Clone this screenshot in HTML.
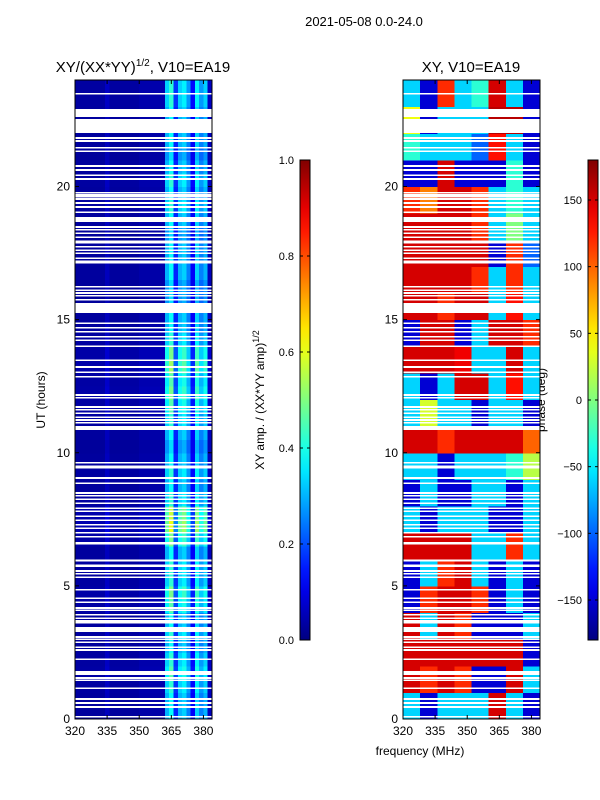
<!DOCTYPE html>
<html><head><meta charset="utf-8">
<style>
body{margin:0;background:#fff;}
svg{display:block;font-family:"Liberation Sans","DejaVu Sans",sans-serif;}
</style></head>
<body>
<svg id="fig" width="600" height="800" viewBox="0 0 600 800">
<text x="364" y="26" font-size="13" text-anchor="middle">2021-05-08 0.0-24.0</text>
<text x="143" y="72" font-size="15" text-anchor="middle">XY/(XX*YY)<tspan font-size="10" dy="-6">1/2</tspan><tspan dy="6">, V10=EA19</tspan></text>
<text x="471" y="72" font-size="15" text-anchor="middle">XY, V10=EA19</text>
<text x="420" y="755" font-size="12" text-anchor="middle">frequency (MHz)</text>
<text transform="translate(45,400) rotate(-90)" font-size="12" text-anchor="middle">UT (hours)</text>
<text transform="translate(264,400) rotate(-90)" font-size="12" text-anchor="middle">XY amp. / (XX*YY amp)<tspan font-size="9" dy="-5">1/2</tspan></text>
<text transform="translate(545,400) rotate(-90)" font-size="12" text-anchor="middle">phase (deg)</text>
<g id="left" shape-rendering="crispEdges"></g>
<g id="right" shape-rendering="crispEdges"></g>
<g id="axes"></g>
</svg>
<script>
// ---- data ----
const freqBinsAmp = [320,322,324,326,328,330,332,334,336,338,340,342,344,346,348,350,352,354,356,358,360,362,364,366,368,370,372,374,376,378,380,382];
const ampByFreq = [0.03,0.03,0.03,0.03,0.03,0.03,0.03,0.06,0.03,0.03,0.03,0.03,0.03,0.03,0.03,0.04,0.04,0.04,0.04,0.04,0.04,0.3,0.38,0.16,0.3,0.33,0.25,0.12,0.33,0.25,0.3,0.06];
const hourBins = [0,0.5,1,1.5,2,2.5,3,3.5,4,4.5,5,5.5,6,6.5,7,7.5,8,8.5,9,9.5,10,10.5,11,11.5,12,12.5,13,13.5,14,14.5,15,15.5,16,16.5,17,17.5,18,18.5,19,19.5,20,20.5,21,21.5,22,22.5,23,23.5];
const ampRowScale = [1.0,1.0,1.1,1.2,1.1,1.0,1.1,1.0,1.2,1.3,1.1,1.1,1.0,1.3,1.6,1.5,1.1,1.0,1.1,1.0,0.9,1.0,1.1,1.2,1.3,1.2,1.4,1.3,1.1,1.0,1.0,0.9,0.9,1.0,1.0,1.0,0.9,1.0,1.1,1.0,1.1,1.0,0.9,1.0,1.0,1.0,1.1,1.1];
const phaseFreqs = [320,328,336,344,352,360,368,376];
const phaseHours = [0,1,2,3,4,5,6,7,8,9,10,11,12,13,14,15,16,17,18,19,20,21,22,23];
const phaseGrid = [
 [-60,-150,-60,-60,-60,150,-60,-150],
 [150,120,150,120,-150,-150,150,-60],
 [150,150,150,150,150,150,150,-150],
 [150,-60,150,120,-150,-150,-150,-60],
 [-150,120,150,150,120,-150,-60,-150],
 [-150,-60,120,150,-60,-150,-60,-150],
 [150,150,150,150,-60,-60,120,-60],
 [-60,-150,-60,-60,-60,-150,-150,-60],
 [-150,-60,-150,-150,-60,-60,-150,-60],
 [-60,-60,-150,-60,-60,-60,-30,20],
 [150,150,120,150,150,150,150,100],
 [-60,30,-60,-60,-150,-60,-60,-150],
 [-60,-150,-60,150,150,-60,130,-60],
 [150,150,150,140,-60,-60,150,-60],
 [-150,150,150,-150,-60,150,150,120],
 [150,150,120,150,150,-60,130,-60],
 [150,150,150,150,120,-60,120,-60],
 [150,150,150,150,150,-150,120,-100],
 [150,150,150,150,120,-60,0,-60],
 [120,90,150,150,120,-60,-30,-60],
 [-150,-150,150,-150,-150,-150,-30,-150],
 [-30,-60,-60,-60,-100,130,-60,-150],
 [40,-150,-60,-60,-60,160,160,-150],
 [-60,-150,120,-60,-30,150,-60,-150]
];
const gapLo = [23.45,22.61,22.01,21.79,21.68,21.42,21.30,20.74,20.59,20.40,20.25,19.73,19.65,19.58,19.50,19.35,19.20,19.01,18.67,18.45,18.34,18.22,18.07,17.92,17.85,17.70,17.58,17.47,17.28,17.17,17.10,16.20,16.08,15.97,15.86,15.71,15.25,14.84,14.66,14.51,14.32,14.20,13.97,13.45,13.19,13.00,12.82,12.14,12.03,11.69,11.58,11.46,11.31,11.20,11.09,10.85,9.59,9.40,9.02,8.83,8.46,8.35,8.23,8.08,7.89,7.78,7.59,7.44,7.26,7.14,6.96,6.81,6.56,5.92,5.70,5.53,5.42,5.30,4.82,4.51,4.36,4.14,4.06,3.88,3.76,3.65,3.58,3.27,3.05,2.97,2.86,2.67,2.56,2.22,1.65,1.51,1.43,1.13,0.72,0.57,0.42,0.05];
const gapHi = [23.52,22.91,22.54,21.85,21.74,21.48,21.36,20.80,20.65,20.46,20.31,19.79,19.71,19.64,19.56,19.41,19.26,19.07,18.85,18.51,18.40,18.28,18.13,17.98,17.91,17.76,17.64,17.53,17.34,17.23,17.16,16.26,16.14,16.03,15.92,15.77,15.62,14.90,14.72,14.57,14.38,14.26,14.03,13.51,13.25,13.06,12.88,12.20,12.09,11.75,11.64,11.52,11.37,11.26,11.15,11.00,9.65,9.52,9.08,8.89,8.52,8.41,8.29,8.14,7.95,7.84,7.65,7.50,7.32,7.20,7.02,6.87,6.64,5.99,5.80,5.59,5.48,5.36,4.88,4.57,4.42,4.20,4.12,3.94,3.82,3.71,3.64,3.46,3.11,3.03,2.92,2.73,2.62,2.28,1.80,1.57,1.49,1.19,0.78,0.63,0.48,0.11];
const xTicks = [320,335,350,365,380];
const yTicks = [0,5,10,15,20];
const ampTicks = [0.0,0.2,0.4,0.6,0.8,1.0];
const phaseTicks = [-150,-100,-50,0,50,100,150];

// ---- helpers ----
const NS='http://www.w3.org/2000/svg';
const svg=document.getElementById('fig');
function el(tag,attrs,parent){const e=document.createElementNS(NS,tag);for(const k in attrs)e.setAttribute(k,attrs[k]);(parent||svg).appendChild(e);return e;}
function jet(v){v=Math.max(0,Math.min(1,v));
 const r=Math.max(0,Math.min(1,1.5-Math.abs(4*v-3)));
 const g=Math.max(0,Math.min(1,1.5-Math.abs(4*v-2)));
 const b=Math.max(0,Math.min(1,1.5-Math.abs(4*v-1)));
 return 'rgb('+Math.round(r*255)+','+Math.round(g*255)+','+Math.round(b*255)+')';}
const Y0=719,Y1=80;
function yH(h){return Y0-(h/24)*(Y0-Y1);}
function xL(f){return 75+(f-320)/64*137;}
function xR(f){return 403+(f-320)/64*137;}

// left heatmap
const gl=document.getElementById('left');
for(let i=0;i<hourBins.length;i++){
 for(let j=0;j<freqBinsAmp.length;j++){
  const v=ampByFreq[j]*ampRowScale[i];
  const r=el('rect',{x:xL(freqBinsAmp[j]),y:yH(hourBins[i]+0.5),width:xL(freqBinsAmp[j]+2)-xL(freqBinsAmp[j])+0.5,height:yH(hourBins[i])-yH(hourBins[i]+0.5)+0.5,fill:jet(v)},gl);
  
  
 }
}
// right heatmap
const gr=document.getElementById('right');
for(let i=0;i<phaseHours.length;i++){
 for(let j=0;j<phaseFreqs.length;j++){
  const v=(phaseGrid[i][j]+180)/360;
  const r=el('rect',{x:xR(phaseFreqs[j]),y:yH(phaseHours[i]+1),width:xR(phaseFreqs[j]+8)-xR(phaseFreqs[j])+0.5,height:yH(phaseHours[i])-yH(phaseHours[i]+1)+0.5,fill:jet(v)},gr);
  
  
 }
}
// gaps
for(let k=0;k<gapLo.length;k++){
 for(const [x0,g] of [[75,gl],[403,gr]]){
  const r=el('rect',{x:x0,y:yH(gapHi[k]),width:137,height:Math.max(1.5,yH(gapLo[k])-yH(gapHi[k])),fill:'#fff'},g);
  
  
 }
}
// axes frames and ticks
const ga=document.getElementById('axes');
for(const [x0,name] of [[75,'left-axes'],[403,'right-axes']]){
 const f=el('rect',{x:x0,y:Y1,width:137,height:Y0-Y1,fill:'none',stroke:'#000','stroke-width':1},ga);
 
 
 for(const t of xTicks){
  const x=x0+(t-320)/64*137;
  el('line',{x1:x,y1:Y0,x2:x,y2:Y0-4,stroke:'#000'},ga);
  el('line',{x1:x,y1:Y1,x2:x,y2:Y1+4,stroke:'#000'},ga);
  const tx=el('text',{x:x,y:Y0+16,'font-size':12,'text-anchor':'middle'},ga);
  tx.textContent=t;
  
  
 }
 for(const t of yTicks){
  const y=yH(t);
  el('line',{x1:x0,y1:y,x2:x0+4,y2:y,stroke:'#000'},ga);
  el('line',{x1:x0+137,y1:y,x2:x0+133,y2:y,stroke:'#000'},ga);
  const tx=el('text',{x:x0-5,y:y+4,'font-size':12,'text-anchor':'end'},ga);
  tx.textContent=t;
  
  
 }
}
// colorbars
const defs=el('defs',{});
const lg=el('linearGradient',{id:'jetg',x1:0,y1:1,x2:0,y2:0},defs);
for(let s=0;s<=20;s++){el('stop',{offset:s/20,'stop-color':jet(s/20)},lg);}
function colorbar(x0,ticks,lo,hi,name,fmt){
 const r=el('rect',{x:x0,y:160,width:10,height:480,fill:'url(#jetg)',stroke:'#000','stroke-width':1});
 
 
 for(const t of ticks){
  const y=640-(t-lo)/(hi-lo)*480;
  el('line',{x1:x0,y1:y,x2:x0+3,y2:y,stroke:'#000'});
  el('line',{x1:x0+10,y1:y,x2:x0+7,y2:y,stroke:'#000'});
  const tx=el('text',{x:x0-6,y:y+4,'font-size':11,'text-anchor':'end'});
  tx.textContent=fmt(t);
  
  
 }
}
colorbar(300,ampTicks,0,1,'amp-colorbar',t=>t.toFixed(1));
colorbar(588,phaseTicks,-180,180,'phase-colorbar',t=>t<0?'\u2212'+(-t):''+t);
</script>
</body></html>
